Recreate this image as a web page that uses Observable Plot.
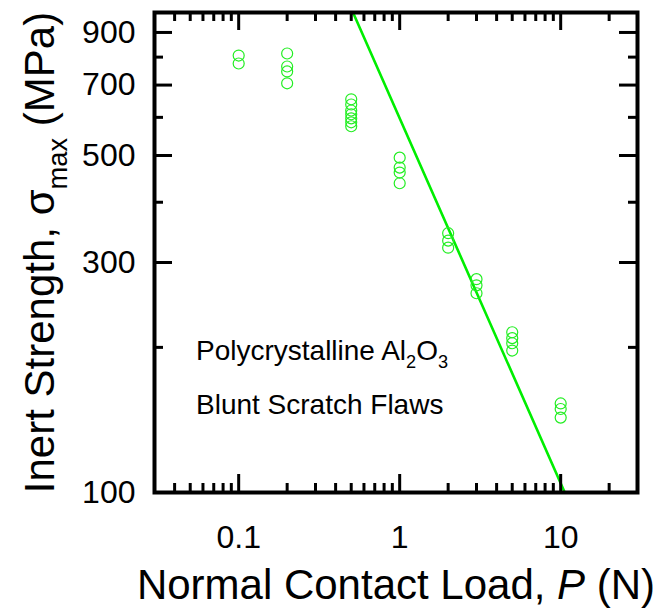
<!DOCTYPE html>
<html><head><meta charset="utf-8">
<script src="https://cdn.jsdelivr.net/npm/d3@7"></script>
<script src="https://cdn.jsdelivr.net/npm/@observablehq/plot@0.6"></script>
<style>body{margin:0;background:#fff}</style>
</head><body><div id="chart"></div>
<script>
// Measured data: normal contact load P (N) and inert strength (MPa)
const loads = [0.1, 0.1,
  0.2, 0.2, 0.2, 0.2,
  0.5, 0.5, 0.5, 0.5, 0.5, 0.5, 0.5,
  1, 1, 1, 1,
  2, 2, 2,
  3, 3, 3,
  5, 5, 5, 5,
  10, 10, 10];
const strengths = [806, 776,
  814, 765, 747, 706,
  654, 638, 620, 609, 597, 586, 575,
  495, 472, 461, 438,
  345, 333, 322,
  277, 269, 259,
  215, 209, 204, 197,
  153, 149, 143];
// Fitted line (two end points)
const fitLoads = [0.513, 10.6];
const fitStrengths = [990, 100];
// Ticks
const xMajor = [0.1, 1, 10];
const xMinor = [0.04, 0.05, 0.06, 0.07, 0.08, 0.09, 0.2, 0.3, 0.4, 0.5, 0.6, 0.7, 0.8, 0.9, 2, 3, 4, 5, 6, 7, 8, 9, 20];
const yMajor = [100, 300, 500, 700, 900];
const yMinor = [200, 400, 600, 800];
// Annotations
const annotText = ["Polycrystalline Al2O3", "Blunt Scratch Flaws"];
const annotLoad = [0.0543, 0.0543];
const annotStrength = [197, 151.5];
const xTitle = "Normal Contact Load, P (N)";
const yTitle = "Inert Strength, σmax (MPa)";

const points = loads.map((x, i) => ({x, y: strengths[i]}));
const fit = fitLoads.map((x, i) => ({x, y: fitStrengths[i]}));
const annots = annotText.map((t, i) => ({t, x: annotLoad[i], y: annotStrength[i]}));

const W = 667, H = 608, mL = 154, mR = 30, mT = 12, mB = 116;
const iW = W - mL - mR, iH = H - mT - mB;
const green = "#22ee22";
const majorLen = 18, minorLen = 9, tickW = 3;
const annotFs = 28, titleFs = 42;

const plot = Plot.plot({
  width: W, height: H,
  marginLeft: mL, marginRight: mR, marginTop: mT, marginBottom: mB,
  style: {fontFamily: "'Liberation Sans', Arial, sans-serif", fontSize: "32px", color: "black", background: "white"},
  x: {type: "log", domain: [0.03, 30]},
  y: {type: "log", domain: [100, 990]},
  marks: [
    Plot.line(fit, {x: "x", y: "y", stroke: "#00ee00", strokeWidth: 2.6}),
    Plot.dot(points, {x: "x", y: "y", r: 5.5, stroke: green, strokeWidth: 1.2, fill: "none"}),
    // inward ticks, all four sides
    Plot.tickX(xMajor, {x: d => d, insetTop: iH - majorLen, stroke: "black", strokeWidth: tickW}),
    Plot.tickX(xMinor, {x: d => d, insetTop: iH - minorLen, stroke: "black", strokeWidth: tickW}),
    Plot.tickX(xMajor, {x: d => d, insetBottom: iH - majorLen, stroke: "black", strokeWidth: tickW}),
    Plot.tickX(xMinor, {x: d => d, insetBottom: iH - minorLen, stroke: "black", strokeWidth: tickW}),
    Plot.tickY(yMajor, {y: d => d, insetRight: iW - majorLen, stroke: "black", strokeWidth: tickW}),
    Plot.tickY(yMinor, {y: d => d, insetRight: iW - minorLen, stroke: "black", strokeWidth: tickW}),
    Plot.tickY(yMajor, {y: d => d, insetLeft: iW - majorLen, stroke: "black", strokeWidth: tickW}),
    Plot.tickY(yMinor, {y: d => d, insetLeft: iW - minorLen, stroke: "black", strokeWidth: tickW}),
    Plot.frame({stroke: "black", strokeWidth: 4}),
    Plot.axisX({ticks: xMajor, tickSize: 0, tickPadding: 33, fontSize: 32, tickFormat: d => String(d), label: null}),
    Plot.axisY({ticks: yMajor, tickSize: 0, tickPadding: 19, fontSize: 32, tickFormat: d => String(d), label: null}),
    Plot.text(annots, {x: "x", y: "y", text: "t", textAnchor: "start", lineAnchor: "middle", fontSize: annotFs, fill: "black"}),
    Plot.text([xTitle], {frameAnchor: "bottom", text: d => d, textAnchor: "middle", lineAnchor: "middle", dy: 93, fontSize: titleFs, fill: "black"}),
    Plot.text([yTitle], {frameAnchor: "left", text: d => d, textAnchor: "middle", lineAnchor: "middle", rotate: -90, dx: -114, fontSize: titleFs, fill: "black"})
  ]
});

// Rich text: subscripts and italics
function rich(textEl, parts, fs) {
  textEl.textContent = "";
  let shift = 0;
  for (const p of parts) {
    const ts = document.createElementNS("http://www.w3.org/2000/svg", "tspan");
    ts.textContent = p.t;
    const target = p.sub ? fs * 0.3 : 0;
    ts.setAttribute("dy", (target - shift) + "px");
    shift = target;
    if (p.sub) ts.setAttribute("font-size", (fs * 0.65) + "px");
    if (p.it) ts.setAttribute("font-style", "italic");
    textEl.appendChild(ts);
  }
}
d3.select(plot).selectAll("text").each(function() {
  const s = this.textContent;
  if (s === annotText[0]) rich(this, [{t: "Polycrystalline Al"}, {t: "2", sub: true}, {t: "O"}, {t: "3", sub: true}], annotFs);
  else if (s === xTitle) rich(this, [{t: "Normal Contact Load, "}, {t: "P", it: true}, {t: " (N)"}], titleFs);
  else if (s === yTitle) rich(this, [{t: "Inert Strength, σ"}, {t: "max", sub: true}, {t: " (MPa)"}], titleFs);
});
document.getElementById("chart").appendChild(plot);
</script>
</body></html>
